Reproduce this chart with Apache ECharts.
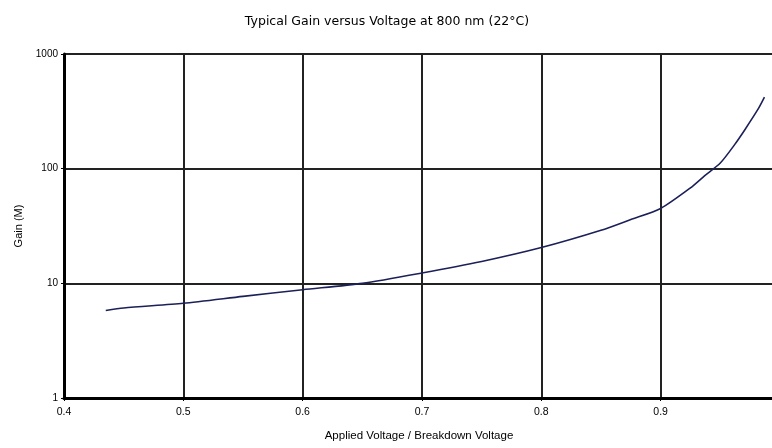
<!DOCTYPE html>
<html>
<head>
<meta charset="utf-8">
<script src="https://cdn.jsdelivr.net/npm/echarts@6/dist/echarts.min.js"></script>
<style>
  html, body { margin: 0; padding: 0; background: #fff; }
  #chart { width: 772px; height: 448px; }
</style>
</head>
<body>
<div id="chart"></div>
<script>
// values
const ratio = [0.435, 0.45, 0.5, 0.55, 0.6, 0.65, 0.7, 0.75, 0.8, 0.85, 0.875, 0.9, 0.925, 0.937, 0.95, 0.962, 0.971, 0.982, 0.987]
const gain = [5.8, 6.1, 6.7, 7.7, 8.8, 10.0, 12.3, 15.5, 20.5, 29, 36, 45, 68, 87, 112, 162, 222, 335, 420]

const font = 'Liberation Sans, Arial, sans-serif'

const myChart = echarts.init(document.getElementById('chart'))
myChart.setOption({
  animation: false,
  title: {
    text: 'Typical Gain versus Voltage at 800 nm (22°C)',
    left: 382,
    textAlign: 'center',
    top: 10,
    textStyle: { fontFamily: 'DejaVu Sans', fontSize: 12.5, fontWeight: 'normal', color: '#000' }
  },
  grid: { left: 64, right: -2, top: 54, bottom: 50, outerBoundsMode: 'none' },
  xAxis: {
    type: 'value',
    min: 0.4,
    max: 0.995,
    interval: 0.1,
    name: 'Applied Voltage / Breakdown Voltage',
    nameLocation: 'middle',
    nameGap: 32,
    nameTextStyle: { fontFamily: font, fontSize: 11.5, color: '#000' },
    axisLine: { lineStyle: { color: '#000', width: 3 } },
    axisTick: { show: true, length: 3, lineStyle: { color: '#000', width: 1 } },
    axisLabel: {
      fontFamily: font, fontSize: 10.5, color: '#000', margin: 9,
      showMaxLabel: false,
      formatter: v => v.toFixed(1)
    },
    splitLine: { show: true, lineStyle: { color: '#222', width: 2 } }
  },
  yAxis: {
    type: 'log',
    logBase: 10,
    min: 1,
    max: 1000,
    name: 'Gain (M)',
    nameLocation: 'middle',
    nameGap: 38,
    nameTextStyle: { fontFamily: font, fontSize: 11, color: '#000' },
    axisLine: { show: true, lineStyle: { color: '#000', width: 3 } },
    axisTick: { show: true, length: 3, lineStyle: { color: '#000', width: 1 } },
    axisLabel: { fontFamily: font, fontSize: 10, color: '#000', margin: 6, formatter: v => String(v) },
    splitLine: { show: true, lineStyle: { color: '#222', width: 2 } },
    minorTick: { show: false }
  },
  series: [
    {
      type: 'line',
      data: ratio.map((x, i) => [x, gain[i]]),
      smooth: 0.25,
      showSymbol: false,
      lineStyle: { color: '#1c2058', width: 1.6 }
    }
  ]
})
</script>
</body>
</html>
